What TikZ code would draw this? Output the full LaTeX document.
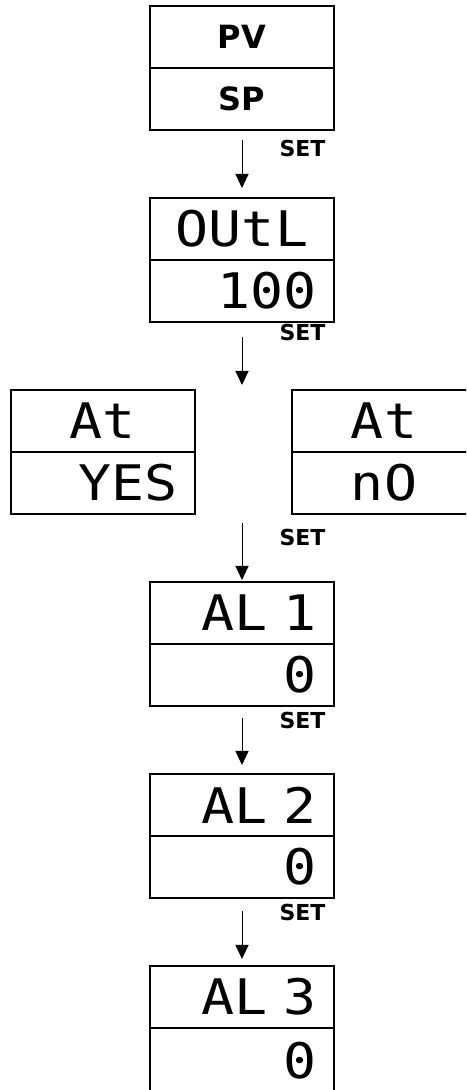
\documentclass[tikz,border=0pt]{standalone}
\usepackage{fontspec}
\usetikzlibrary{positioning,arrows.meta}
\newfontfamily\lcdfont[FakeStretch=1.12]{DejaVu Sans Mono}
\newfontfamily\pvfont{DejaVu Sans}
\newfontfamily\setfont{DejaVu Sans}
\tikzset{
  row/.style={draw, line width=1.2pt, minimum width=184pt, minimum height=62pt, inner sep=0pt, outer sep=0pt},
  lcd/.style={row, text width=150pt, align=right, font=\lcdfont\fontsize{49}{49}\selectfont},
  lcdmid/.style={lcd, align=center},
  pvrow/.style={row, text width=150pt, align=center, font=\pvfont\bfseries\fontsize{32}{32}\selectfont},
  flow/.style={-{Triangle[length=14pt,width=13pt]}, line width=1pt},
  setlbl/.style={text width=60pt, align=left, inner sep=0pt, font=\setfont\bfseries\fontsize{22}{22}\selectfont}
}
\begin{document}
\begin{tikzpicture}[x=1pt,y=1pt]
\clip (0,0) rectangle (466,1090);
% display boxes, one name row over one value row
\node[pvrow] (pv) at (242,1053) {PV};
\node[pvrow, below=0pt of pv] (sp) {SP};
\node[lcdmid] (outl) at (242,861) {OUtL};
\node[lcd, below=0pt of outl] (outlval) {100};
\node[lcdmid] (atyes) at (103,669) {At};
\node[lcd, below=0pt of atyes] (yes) {YES};
\node[lcdmid] (atno) at (384,669) {At};
\node[lcdmid, below=0pt of atno] (no) {nO};
\node[lcd] (alone) at (242,477) {AL 1};
\node[lcd, below=0pt of alone] (aloneval) {0};
\node[lcd] (altwo) at (242,285) {AL 2};
\node[lcd, below=0pt of altwo] (altwoval) {0};
\node[lcd] (althree) at (242,93) {AL 3};
\node[lcd, minimum height=66pt, below=0pt of althree] (althreeval) {0};
% between the two At boxes
\coordinate (atin) at (242,705);
\coordinate (atout) at (242,567);
% SET steps
\draw[flow, shorten <=10pt, shorten >=10pt] (sp) -- node[setlbl, pos=0.27, right=37pt] {SET} (outl);
\draw[flow, shorten <=15pt] (outlval) -- node[setlbl, pos=0.17, right=37pt] {SET} (atin);
\draw[flow, shorten >=2pt] (atout) -- node[setlbl, pos=0.25, right=37pt] {SET} (alone);
\draw[flow, shorten <=12pt, shorten >=9pt] (aloneval) -- node[setlbl, pos=0.21, right=37pt] {SET} (altwo);
\draw[flow, shorten <=13pt, shorten >=7pt] (altwoval) -- node[setlbl, pos=0.21, right=37pt] {SET} (althree);
\end{tikzpicture}
\end{document}
